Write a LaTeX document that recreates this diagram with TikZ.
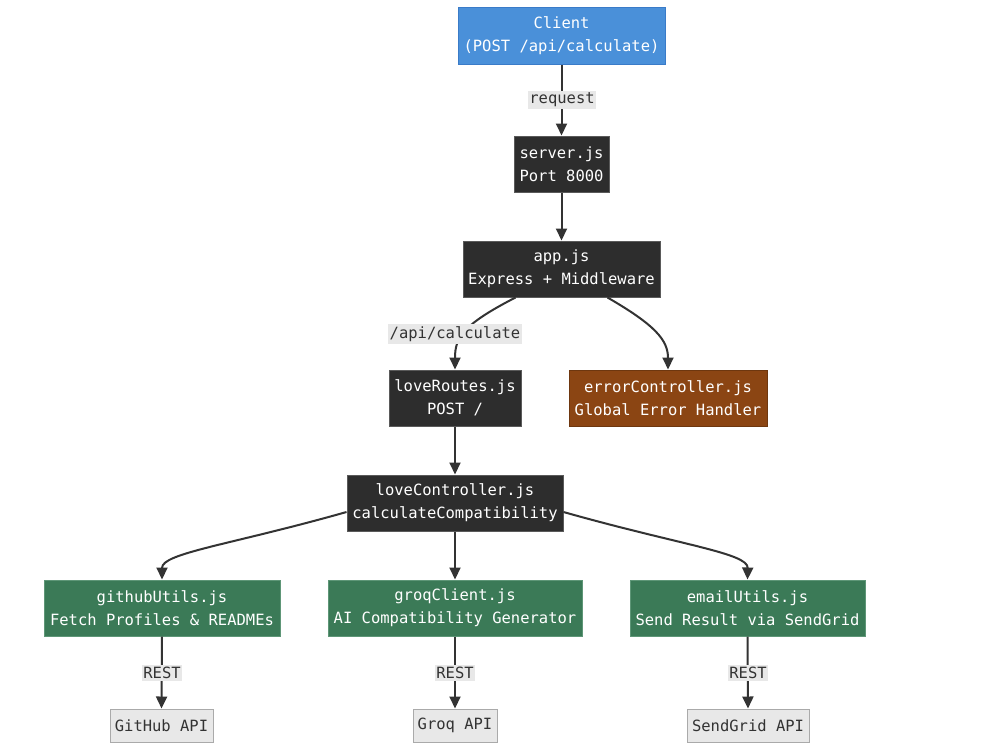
\documentclass[tikz,border=0pt]{standalone}
\usepackage{fontspec}
\setmonofont{DejaVu Sans Mono}
\usetikzlibrary{arrows.meta}
\definecolor{cblue}{HTML}{4A90D9}
\definecolor{cblueb}{HTML}{3A7BC8}
\definecolor{cdark}{HTML}{2D2D2D}
\definecolor{cdarkb}{HTML}{5A5A5A}
\definecolor{cbrown}{HTML}{8B4513}
\definecolor{cbrownb}{HTML}{6E370F}
\definecolor{cgreen}{HTML}{3B7A57}
\definecolor{cgreenb}{HTML}{5E9677}
\definecolor{cgray}{HTML}{E8E8E8}
\definecolor{cgrayb}{HTML}{AAAAAA}
\definecolor{cline}{HTML}{333333}
\tikzset{
  base/.style={draw, line width=1pt, align=center, inner sep=0pt,
    font=\ttfamily\fontsize{15.5}{23}\selectfont, text=white},
  bluebox/.style={base, fill=cblue, draw=cblueb},
  darkbox/.style={base, fill=cdark, draw=cdarkb},
  brownbox/.style={base, fill=cbrown, draw=cbrownb},
  greenbox/.style={base, fill=cgreen, draw=cgreenb},
  graybox/.style={base, fill=cgray, draw=cgrayb, text=cline},
  lbl/.style={fill=cgray, text=cline, inner xsep=1.5pt, inner ysep=2pt,
    font=\ttfamily\fontsize{15.5}{18}\selectfont},
  conn/.style={draw=cline, line width=2pt,
    -{Triangle[length=12pt,width=11pt]}},
}
\begin{document}
\begin{tikzpicture}[x=1pt,y=-1pt]
\useasboundingbox[fill=white] (0,0) rectangle (1000,750);
\node[bluebox, minimum width=207pt, minimum height=57pt] (client) at (561.5,35.5) {Client\\(POST /api/calculate)};
\node[darkbox, minimum width=95pt, minimum height=56pt] (server) at (561.5,164) {server.js\\Port 8000};
\node[darkbox, minimum width=197pt, minimum height=56pt] (app) at (561.5,269) {app.js\\Express + Middleware};
\node[darkbox, minimum width=132pt, minimum height=56pt] (routes) at (455,398) {loveRoutes.js\\POST /};
\node[brownbox, minimum width=198pt, minimum height=56pt] (err) at (668,398) {errorController.js\\Global Error Handler};
\node[darkbox, minimum width=216pt, minimum height=56pt] (ctrl) at (455,503) {loveController.js\\calculateCompatibility};
\node[greenbox, minimum width=236pt, minimum height=56pt] (gh) at (162,608) {githubUtils.js\\Fetch Profiles \& READMEs};
\node[greenbox, minimum width=254pt, minimum height=56pt] (groq) at (455,608) {groqClient.js\\AI Compatibility Generator};
\node[greenbox, minimum width=235pt, minimum height=56pt] (email) at (747.5,608) {emailUtils.js\\Send Result via SendGrid};
\node[graybox, minimum width=103pt, minimum height=33pt] (ghapi) at (161.5,725.5) {GitHub API};
\node[graybox, minimum width=84pt, minimum height=33pt] (groqapi) at (455,725.5) {Groq API};
\node[graybox, minimum width=122pt, minimum height=33pt] (sgapi) at (748,725.5) {SendGrid API};

\draw[conn] (client.south) -- (server.north);
\draw[conn] (server.south) -- (app.north);
\draw[conn] ([xshift=-46pt]app.south) .. controls (462,325) and (455,338) .. (routes.north);
\draw[conn] ([xshift=46pt]app.south) .. controls (655,325) and (668,340) .. (err.north);
\draw[conn] (routes.south) -- (ctrl.north);
\draw[conn] ([yshift=-9pt]ctrl.west) .. controls (230,545) and (162,553) .. (gh.north);
\draw[conn] (ctrl.south) -- (groq.north);
\draw[conn] ([yshift=-9pt]ctrl.east) .. controls (680,545) and (748,553) .. (email.north);
\draw[conn] (gh.south) -- (ghapi.north);
\draw[conn] (groq.south) -- (groqapi.north);
\draw[conn] (email.south) -- (sgapi.north);

\node[lbl] (l1) at (562,100) {request};
\node[lbl] (l2) at (455,334) {/api/calculate};
\node[lbl] (l3) at (162,673) {REST};
\node[lbl] (l4) at (455,673) {REST};
\node[lbl] (l5) at (748,673) {REST};
\end{tikzpicture}
\end{document}
